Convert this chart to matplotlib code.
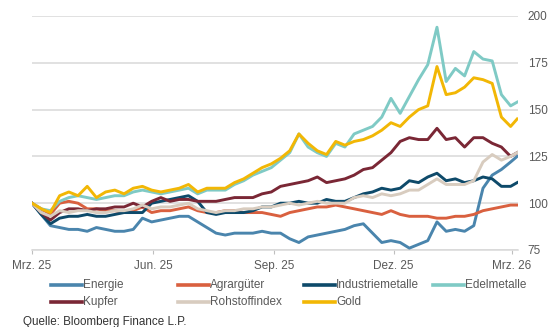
import pandas as pd
import matplotlib
matplotlib.use("Agg")
import matplotlib.pyplot as plt
from matplotlib.lines import Line2D

plt.rcParams["font.family"] = ["Liberation Sans", "DejaVu Sans"]

# weekly index values (Mar 2025 = 100)
dates = pd.date_range("2025-03-01", periods=53, freq="7D").append(pd.DatetimeIndex(["2026-03-05"]))

energie = [100, 94, 88, 87, 86, 86, 85, 87, 86, 85, 85, 86, 92, 90, 91, 92, 93, 93, 90, 87,
           84, 83, 84, 84, 84, 85, 84, 84, 81, 79, 82, 83, 84, 85, 86, 88, 89, 84, 79, 80,
           79, 76, 78, 80, 90, 85, 86, 85, 88, 108, 115, 118, 122, 125]
agrar = [100, 97, 94, 100, 101, 100, 97, 97, 96, 96, 95, 96, 98, 95, 96, 96, 97, 98, 96, 95,
         95, 96, 96, 95, 95, 95, 94, 93, 95, 96, 97, 98, 98, 99, 98, 97, 96, 95, 94, 96,
         94, 93, 93, 93, 92, 92, 93, 93, 94, 96, 97, 98, 99, 99]
industrie = [100, 94, 89, 92, 93, 93, 94, 93, 93, 94, 95, 95, 95, 100, 101, 102, 103, 104, 101, 95,
             94, 95, 95, 95, 96, 98, 98, 100, 100, 101, 100, 100, 102, 101, 101, 103, 105, 106, 108, 107,
             108, 112, 111, 114, 116, 112, 113, 111, 112, 114, 113, 109, 109, 111]
edel = [100, 97, 96, 101, 103, 104, 103, 102, 103, 104, 104, 106, 107, 106, 105, 106, 107, 108, 105, 107,
        107, 107, 110, 112, 115, 117, 119, 123, 127, 137, 130, 127, 125, 132, 130, 137, 139, 141, 146, 156,
        148, 157, 166, 174, 194, 165, 172, 168, 181, 177, 176, 158, 152, 154]
kupfer = [100, 95, 91, 95, 97, 97, 96, 97, 97, 98, 98, 100, 98, 101, 103, 101, 102, 102, 101, 101,
          101, 102, 103, 103, 103, 105, 106, 109, 110, 111, 112, 114, 111, 112, 113, 115, 118, 119, 123, 127,
          133, 135, 134, 134, 140, 134, 135, 130, 135, 135, 132, 130, 125, 127]
rohstoff = [100, 95, 93, 96, 95, 96, 96, 95, 95, 96, 96, 97, 99, 97, 98, 98, 99, 100, 97, 96,
            95, 96, 96, 97, 97, 98, 98, 99, 100, 99, 100, 101, 100, 100, 100, 103, 104, 103, 105, 104,
            105, 107, 107, 110, 113, 110, 110, 110, 112, 122, 126, 123, 125, 127]
gold = [100, 97, 95, 104, 106, 104, 109, 103, 106, 107, 105, 108, 109, 107, 106, 107, 108, 110, 106, 108,
        108, 108, 111, 113, 116, 119, 121, 124, 128, 137, 132, 128, 126, 133, 131, 133, 134, 136, 139, 143,
        141, 146, 150, 152, 173, 158, 159, 162, 167, 166, 164, 146, 141, 145]

labels = ["Energie", "Agrargüter", "Industriemetalle", "Edelmetalle",
          "Kupfer", "Rohstoffindex", "Gold"]
series = [energie, agrar, industrie, edel, kupfer, rohstoff, gold]
colors = ["#4a85ad", "#d9603f", "#0e4a6a", "#7fcac5", "#7a2735", "#d8ccbf", "#f2b705"]

tick_dates = pd.to_datetime(["2025-03-01", "2025-06-01", "2025-09-01", "2025-12-01", "2026-03-01"])
tick_labels = ["Mrz. 25", "Jun. 25", "Sep. 25", "Dez. 25", "Mrz. 26"]

W, H = 550, 327
fig = plt.figure(figsize=(W / 100, H / 100), dpi=100)
ax = fig.add_axes([32 / W, 1 - 250 / H, (518 - 32) / W, (250 - 16) / H])

for vals, c in zip(series, colors):
    ax.plot(dates, vals, color=c, lw=2.1, solid_joinstyle="round", zorder=3)

grid_c = "#d9d9d9"
text_c = "#595959"
ax.set_ylim(75, 200)
ax.set_yticks([75, 100, 125, 150, 175, 200])
ax.set_xlim(pd.Timestamp("2025-03-01"), pd.Timestamp("2026-03-05 15:00"))
ax.set_xticks(tick_dates)
ax.set_xticklabels(tick_labels)
ax.yaxis.tick_right()
ax.grid(axis="y", color=grid_c, lw=1.1, zorder=0)
for s in ["top", "left", "right"]:
    ax.spines[s].set_visible(False)
ax.spines["bottom"].set_color(grid_c)
ax.spines["bottom"].set_linewidth(1.1)
ax.tick_params(axis="y", length=0, pad=7, labelsize=8.5, labelcolor=text_c)
ax.tick_params(axis="x", length=3, color="#bfbfbf", pad=4, labelsize=8.5, labelcolor=text_c)

# legend laid out like the original: two rows, fixed column positions
col_x = [51, 178, 304, 433]
row_y = [285, 302]
for i, (lab, c) in enumerate(zip(labels, colors)):
    x0 = col_x[i % 4]
    y0 = 1 - row_y[i // 4] / H
    fig.add_artist(Line2D([x0 / W, (x0 + 31) / W], [y0, y0], transform=fig.transFigure,
                          color=c, lw=2.6))
    fig.text((x0 + 32) / W, y0, lab, fontsize=8.5, color=text_c, va="center", ha="left")

fig.text(23 / W, 1 - 322 / H, "Quelle: Bloomberg Finance L.P.", fontsize=8.4,
         color="#333333", va="center", ha="left")

fig.savefig("out.png", dpi=100)
